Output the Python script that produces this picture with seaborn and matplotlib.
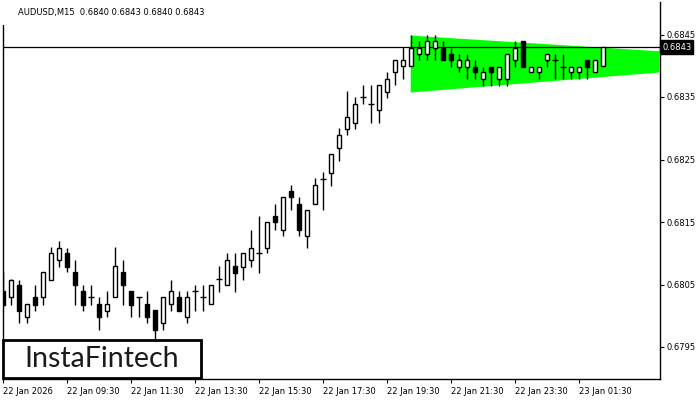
import numpy as np
import pandas as pd
import matplotlib
matplotlib.use("Agg")
import matplotlib.pyplot as plt
import matplotlib.patches as mpatches
import seaborn as sns

# AUDUSD M15 candles
opens = [0.68040, 0.68030, 0.68049, 0.67998, 0.68030, 0.68030, 0.68058, 0.68089, 0.68100, 0.68070,
         0.68040, 0.68030, 0.68019, 0.68008, 0.68030, 0.68070, 0.68040, 0.68030, 0.68019, 0.68009,
         0.67989, 0.68019, 0.68030, 0.67998, 0.68040, 0.68030, 0.68019, 0.68059, 0.68049, 0.68080,
         0.68078, 0.68089, 0.68100, 0.68109, 0.68160, 0.68138, 0.68200, 0.68179, 0.68128, 0.68179,
         0.68219, 0.68229, 0.68269, 0.68299, 0.68309, 0.68350, 0.68339, 0.68329, 0.68358, 0.68390,
         0.68399, 0.68399, 0.68419, 0.68419, 0.68429, 0.68429, 0.68419, 0.68398, 0.68398, 0.68398,
         0.68378, 0.68398, 0.68378, 0.68378, 0.68409, 0.68440, 0.68390, 0.68390, 0.68409, 0.68409,
         0.68398, 0.68390, 0.68390, 0.68409, 0.68390, 0.68400]
highs = [0.68070, 0.68059, 0.68058, 0.68019, 0.68049, 0.68070, 0.68110, 0.68120, 0.68109, 0.68089,
         0.68049, 0.68049, 0.68030, 0.68040, 0.68110, 0.68089, 0.68040, 0.68030, 0.68040, 0.68009,
         0.68030, 0.68058, 0.68040, 0.68040, 0.68049, 0.68049, 0.68049, 0.68080, 0.68100, 0.68100,
         0.68100, 0.68138, 0.68160, 0.68150, 0.68179, 0.68190, 0.68209, 0.68190, 0.68169, 0.68220,
         0.68230, 0.68258, 0.68300, 0.68360, 0.68350, 0.68369, 0.68369, 0.68369, 0.68390, 0.68409,
         0.68430, 0.68449, 0.68440, 0.68449, 0.68449, 0.68440, 0.68429, 0.68419, 0.68419, 0.68409,
         0.68398, 0.68398, 0.68398, 0.68419, 0.68440, 0.68440, 0.68398, 0.68398, 0.68419, 0.68419,
         0.68419, 0.68398, 0.68398, 0.68409, 0.68409, 0.68430]
lows = [0.68014, 0.68017, 0.67989, 0.67989, 0.68008, 0.68017, 0.68058, 0.68078, 0.68070, 0.68017,
        0.68008, 0.68017, 0.67978, 0.67998, 0.68030, 0.68017, 0.67998, 0.67998, 0.67989, 0.67961,
        0.67978, 0.68008, 0.68008, 0.67989, 0.68008, 0.68008, 0.68019, 0.68038, 0.68049, 0.68038,
        0.68058, 0.68078, 0.68069, 0.68100, 0.68138, 0.68128, 0.68169, 0.68128, 0.68109, 0.68179,
        0.68169, 0.68208, 0.68248, 0.68289, 0.68299, 0.68339, 0.68309, 0.68309, 0.68349, 0.68369,
        0.68378, 0.68399, 0.68409, 0.68409, 0.68409, 0.68409, 0.68398, 0.68390, 0.68378, 0.68378,
        0.68368, 0.68368, 0.68368, 0.68368, 0.68398, 0.68398, 0.68390, 0.68378, 0.68398, 0.68378,
        0.68378, 0.68378, 0.68378, 0.68378, 0.68390, 0.68400]
closes = [0.68017, 0.68058, 0.68008, 0.68019, 0.68017, 0.68070, 0.68100, 0.68109, 0.68078, 0.68049,
          0.68017, 0.68030, 0.67998, 0.68019, 0.68080, 0.68049, 0.68017, 0.68030, 0.67998, 0.67978,
          0.68030, 0.68040, 0.68008, 0.68030, 0.68040, 0.68030, 0.68049, 0.68059, 0.68089, 0.68069,
          0.68100, 0.68109, 0.68100, 0.68150, 0.68150, 0.68190, 0.68190, 0.68138, 0.68169, 0.68209,
          0.68219, 0.68258, 0.68289, 0.68318, 0.68339, 0.68350, 0.68339, 0.68369, 0.68378, 0.68409,
          0.68409, 0.68429, 0.68429, 0.68440, 0.68440, 0.68409, 0.68409, 0.68409, 0.68409, 0.68390,
          0.68390, 0.68390, 0.68398, 0.68419, 0.68429, 0.68398, 0.68398, 0.68398, 0.68419, 0.68409,
          0.68398, 0.68398, 0.68398, 0.68398, 0.68409, 0.68430]

# x tick labels, one every 8 bars (2 hours)
tick_bars = [0, 8, 16, 24, 32, 40, 48, 56, 64, 72]
tick_labels = ["22 Jan 2026", "22 Jan 09:30", "22 Jan 11:30", "22 Jan 13:30", "22 Jan 15:30",
               "22 Jan 17:30", "22 Jan 19:30", "22 Jan 21:30", "22 Jan 23:30", "23 Jan 01:30"]
price_ticks = [0.6795, 0.6805, 0.6815, 0.6825, 0.6835, 0.6845]

# symmetrical triangle pattern (bar index, upper, lower)
tri_bars = [50.9, 82.0]
tri_upper = [0.68449, 0.68424]
tri_lower = [0.68358, 0.68390]

last_price = 0.6843

df = pd.DataFrame({"open": opens, "high": highs, "low": lows, "close": closes})
df["bar"] = np.arange(len(df))
df["up"] = df["close"] >= df["open"]

sns.set_style("white")
plt.rcParams['font.family'] = ['DejaVu Sans']

fig = plt.figure(figsize=(7, 4), dpi=100)
ax = fig.add_axes([2.5 / 700, 21 / 400, 657 / 700, 377.5 / 400])

# pattern area
ax.fill_between(tri_bars, tri_lower, tri_upper, color="#00ff00", lw=0, zorder=1)

# current price line
ax.axhline(last_price, color="black", lw=0.9, zorder=2)

# wicks
ax.vlines(df["bar"], df["low"], df["high"], color="black", lw=1, zorder=3)

# bodies
body_lo = df[["open", "close"]].min(axis=1)
body_hi = df[["open", "close"]].max(axis=1)
flat = body_hi - body_lo < 1e-6
ax.bar(df["bar"][~flat], (body_hi - body_lo)[~flat], bottom=body_lo[~flat], width=0.62,
       color=np.where(df["up"][~flat], "white", "black"), edgecolor="black", lw=1, zorder=4)
ax.hlines(df["close"][flat], df["bar"][flat] - 0.35, df["bar"][flat] + 0.35,
          color="black", lw=1, zorder=4)

ax.set_xlim(-0.06, 82.06)
ax.set_ylim(0.678988, 0.685028)

ax.yaxis.tick_right()
ax.set_yticks(price_ticks)
ax.set_yticklabels([f"{p:.4f}" for p in price_ticks])
ax.set_xticks(tick_bars)
ax.set_xticklabels(tick_labels, ha="left")
ax.tick_params(axis="both", which="major", labelsize=6, length=3, width=0.8,
               color="black", labelcolor="black", pad=2)
ax.tick_params(axis="y", right=True, left=False)
ax.tick_params(axis="x", bottom=True, pad=3)

for side in ["left", "right", "bottom"]:
    ax.spines[side].set_color("black")
    ax.spines[side].set_linewidth(1)
ax.spines["top"].set_visible(False)
ax.grid(False)

# price label on axis
ax.text(1.004, last_price, "0.6843", transform=ax.get_yaxis_transform(), fontsize=6,
        color="white", va="center", ha="left",
        bbox=dict(boxstyle="square,pad=0.25", fc="black", ec="black"))

# header
fig.patches.append(mpatches.Rectangle((0, 375 / 400), 260 / 700, 25 / 400, transform=fig.transFigure,
                                      fc="white", ec="none", zorder=5))
fig.text(18 / 700, 1 - 12 / 400, "AUDUSD,M15  0.6840 0.6843 0.6840 0.6843", fontsize=6,
         color="black", va="center", ha="left", zorder=6)

# logo
fig.patches.append(mpatches.Rectangle((3 / 700, 22 / 400), 198 / 700, 38 / 400, transform=fig.transFigure,
                                      fc="white", ec="black", lw=2, zorder=5))
fig.text(102 / 700, 41 / 400, "InstaFintech", fontsize=20.5, family="Lato", color="#1a1a1a",
         va="center", ha="center", zorder=6)

plt.savefig("out.png", dpi=100)
